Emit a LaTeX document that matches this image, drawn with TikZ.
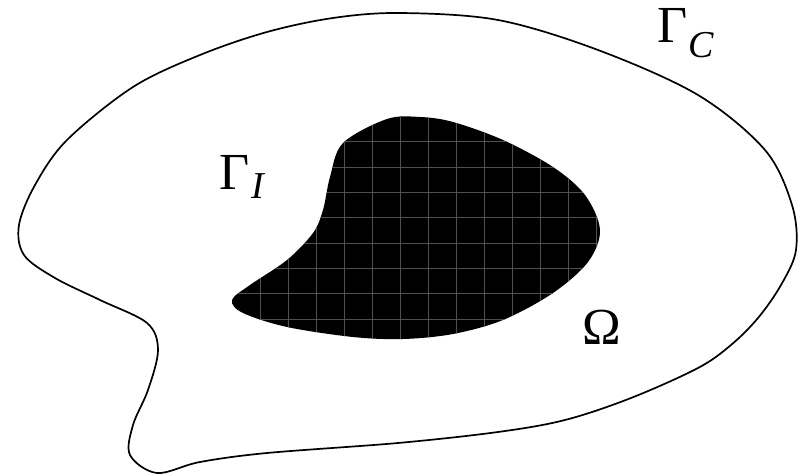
\documentclass[tikz,border=0pt]{standalone}
\usepackage{fontspec}
\setmainfont{Liberation Serif}
\definecolor{gridgray}{RGB}{80,80,80}
\begin{document}
\begin{tikzpicture}[x=0.5pt,y=-0.5pt,
  boundary/.style={line width=0.85pt, line join=round},
  gridline/.style={draw=gridgray, line width=0.45pt},
  lbl/.style={inner sep=0pt, anchor=base west, font=\fontsize{26}{30}\selectfont}]
\useasboundingbox (0,0) rectangle (798,475);
% outer boundary Gamma_C
\draw[boundary] plot[smooth cycle, tension=0.55] coordinates {
  (400,13) (498,20) (598,50) (698,95) (765,150) (792,205) (796,250)
  (781,285) (758,318) (731,345) (698,368) (631,398) (565,420) (498,432)
  (398,443) (267,453) (200,462) (157,473) (130,455) (133,425) (148,390)
  (158,350) (147,323) (100,300) (55,278) (24,255) (19,225) (35,185)
  (67,140) (133,87) (200,55) (267,32) (333,18)};
% inner body
\def\blob{plot[smooth cycle, tension=0.55] coordinates {
  (420,117) (453,122) (503,140) (553,167) (585,195) (600,230) (588,262)
  (553,293) (503,320) (453,334) (403,339) (353,337) (287,327) (243,313)
  (232,300) (250,285) (287,260) (313,233) (323,210) (330,177) (343,143)
  (387,119)}}
\fill[black] \blob;
\begin{scope}
  \clip \blob;
  \foreach \i in {0,...,12} \draw[gridline] ({260+28*\i},100) -- ({260+28*\i},360);
  \foreach \i in {0,...,8} \draw[gridline] (220,{141.7+25.33*\i}) -- (620,{141.7+25.33*\i});
\end{scope}
% labels
\node[lbl] (gc) at (657,43) {Γ\kern0.5pt\raisebox{-7.5pt}{\fontsize{19}{22}\selectfont\itshape C}};
\node[lbl] (gi) at (219,190) {Γ\kern1pt\raisebox{-4.5pt}{\fontsize{19}{22}\selectfont\itshape I}};
\node[lbl] (om) at (582,345) {Ω};
\end{tikzpicture}
\end{document}
